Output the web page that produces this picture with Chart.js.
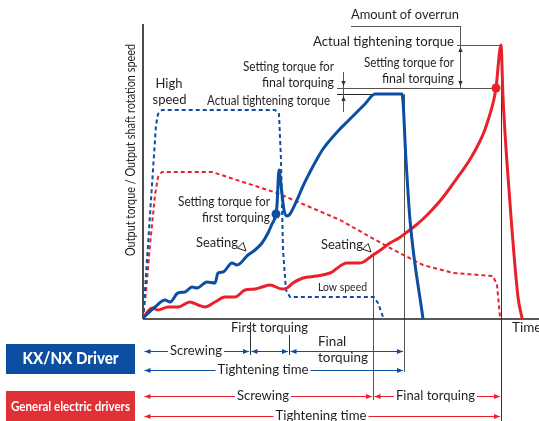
<!DOCTYPE html>
<html><head><meta charset="utf-8">
<script src="https://cdn.jsdelivr.net/npm/chart.js@4"></script>
<style>html,body{margin:0;padding:0;background:#fff;overflow:hidden}</style>
</head><body>
<canvas id="c" width="539" height="421"></canvas>
<script>
// ---- Data (time units along x, torque / speed units along y) ----
const kxTorque = [[0,1],[12,12],[22,19],[27,17],[35,26],[42,27],[49,32],[54,31],[64,37],[72,36],[75,46],[80,47],[89,56],[94,54],[105,64],[112,69],[119,76],[125,86],[129,95],[133,105],[134,114],[136,149],[138,134],[141,109],[144,103],[147,105],[154,119],[160,133],[167,147],[174,160],[180,170],[188,180],[196,189],[204,197],[213,206],[222,215],[232,225],[259,225],[263,159],[267,99],[280,0]];
const genTorque = [[0,1],[9,11],[15,9],[25,12],[35,12],[47,17],[55,14],[62,12],[72,17],[82,22],[92,22],[102,29],[112,30],[119,32],[127,34],[139,30],[144,31],[150,36],[160,41],[174,43],[187,46],[204,56],[217,56],[230,64],[239,70],[247,76],[256,81],[264,87],[272,93],[280,100],[288,108],[297,118],[307,131],[317,145],[326,158],[334,172],[341,187],[347,205],[351,220],[353,231],[358,274],[360,222],[364,156],[369,89],[375,22],[379,1]];
const kxSpeed = [[0,0],[5,74],[10,149],[13,194],[15,205],[19,209],[132,209],[136,205],[138,159],[140,69],[143,29],[147,22],[231,22],[235,16],[240,2]];
const genSpeed = [[0,0],[3,27],[7,74],[12,124],[15,142],[19,147],[69,147],[134,126],[197,99],[222,85],[247,71],[280,54],[310,46],[350,43],[354,34],[357,2]];
const kxPhaseBounds = [0, 107, 146, 261];      // screwing | first torquing | final torquing end
const genPhaseBounds = [0, 230, 358];          // screwing | final torquing end
const kxFirstSetPoint = [133, 105];
const genFinalSetPoint = [353, 231];
const kxTorqueLevels = [231, 225];             // setting torque final, actual tightening torque
const genTorqueLevels = [231, 274];            // setting torque final, actual tightening torque
const seatingPoints = [[104, 66], [229, 65]];

const BLUE = '#0b4ea2', RED = '#e8212b', BOXBLUE = '#0b4ea2', BOXRED = '#e03236';
const TXT = '#231f20', GUIDE = '#555';
const FONT = 'Lato, "Open Sans", sans-serif';
const pts = a => a.map(([x, y]) => ({x, y}));

const annot = {
  id: 'annot',
  beforeDatasetsDraw(chart) {
    const {ctx, scales: {x: xs, y: ys}} = chart;
    const X = v => xs.getPixelForValue(v), Y = v => ys.getPixelForValue(v);
    ctx.save();
    const ln = (x1, y1, x2, y2) => { ctx.beginPath(); ctx.moveTo(x1, y1); ctx.lineTo(x2, y2); ctx.stroke(); };
    ctx.lineWidth = 1; ctx.strokeStyle = GUIDE;
    ln(X(kxPhaseBounds[3]) + .5, Y(kxTorqueLevels[1]), X(kxPhaseBounds[3]) + .5, Y(-53));
    ln(X(genPhaseBounds[1]) + .5, Y(64), X(genPhaseBounds[1]) + .5, Y(-81));
    ctx.strokeStyle = '#333';
    ln(X(genPhaseBounds[2]) + .5, Y(genTorqueLevels[1]), X(genPhaseBounds[2]) + .5, Y(-102));
    ctx.strokeStyle = GUIDE;
    ln(X(194), Y(genTorqueLevels[0]) + .5, X(genFinalSetPoint[0]), Y(genTorqueLevels[0]) + .5);
    ln(X(314), Y(genTorqueLevels[1]) + .5, X(genPhaseBounds[2]), Y(genTorqueLevels[1]) + .5);
    ctx.strokeStyle = '#222';
    ln(X(194), Y(kxTorqueLevels[1]) + .5, X(232), Y(kxTorqueLevels[1]) + .5);
    ctx.strokeStyle = GUIDE;
    ln(X(208), Y(293) + .5, X(317) + .5, Y(293) + .5);
    ln(X(317) + .5, Y(293), X(317) + .5, Y(231));
    ln(X(200) + .5, Y(247), X(200) + .5, Y(207));
    ctx.strokeStyle = '#231f20'; ctx.lineWidth = 1.6;
    ln(X(0), Y(295), X(0), Y(0));
    ln(X(0), Y(0), X(396), Y(0));
    ctx.restore();
  },
  afterDatasetsDraw(chart) {
    const {ctx, scales: {x: xs, y: ys}} = chart;
    const X = v => xs.getPixelForValue(v), Y = v => ys.getPixelForValue(v);
    ctx.save();
    const ln = (x1, y1, x2, y2) => { ctx.beginPath(); ctx.moveTo(x1, y1); ctx.lineTo(x2, y2); ctx.stroke(); };
    const text = (s, x, y, align, size, maxW, opts = {}) => {
      ctx.font = (opts.weight || '400') + ' ' + size + 'px ' + FONT;
      ctx.textAlign = align; ctx.textBaseline = 'middle';
      ctx.fillStyle = opts.color || TXT;
      if (opts.bg) {
        const w = Math.min(ctx.measureText(s).width, maxW || 1e9);
        const x0 = align === 'center' ? x - w / 2 : align === 'right' ? x - w : x;
        ctx.save(); ctx.fillStyle = '#fff'; ctx.fillRect(x0 - 2, y - size / 2, w + 4, size); ctx.restore();
      }
      if (maxW) ctx.fillText(s, x, y, maxW); else ctx.fillText(s, x, y);
    };
    const head = (x, y, dx, dy, color, len = 6, hw = 2.6) => {
      ctx.fillStyle = color; ctx.beginPath();
      ctx.moveTo(x, y);
      ctx.lineTo(x - dx * len - dy * hw, y - dy * len + dx * hw);
      ctx.lineTo(x - dx * len + dy * hw, y - dy * len - dx * hw);
      ctx.closePath(); ctx.fill();
    };
    const dbl = (t1, t2, v, color) => {
      const x1 = X(t1) + 1.5, x2 = X(t2) - 1, y = Math.round(Y(v)) + .5;
      ctx.strokeStyle = color; ctx.lineWidth = 1.2; ln(x1, y, x2, y);
      head(x1, y, -1, 0, color); head(x2, y, 1, 0, color);
    };
    ctx.fillStyle = BLUE; ctx.beginPath(); ctx.arc(X(kxFirstSetPoint[0]), Y(kxFirstSetPoint[1]), 4.5, 0, Math.PI * 2); ctx.fill();
    ctx.fillStyle = RED; ctx.beginPath(); ctx.arc(X(genFinalSetPoint[0]), Y(genFinalSetPoint[1]), 4.5, 0, Math.PI * 2); ctx.fill();
    head(X(317) + .5, Y(272), 0, -1, '#333', 5, 2.2);
    head(X(317) + .5, Y(233), 0, 1, '#333', 5, 2.2);
    head(X(200) + .5, Y(233), 0, 1, '#333', 5, 2.2);
    head(X(200) + .5, Y(223), 0, -1, '#333', 5, 2.2);
    ctx.strokeStyle = '#222'; ctx.lineWidth = 1;
    for (const [t, v] of seatingPoints) {
      const tx = X(t) - 1, ty = Y(v) - 2, d = 0.7071, len = 8, hw = 4;
      ctx.beginPath(); ctx.moveTo(tx, ty);
      ctx.lineTo(tx - d * len + d * hw, ty - d * len - d * hw);
      ctx.lineTo(tx - d * len - d * hw, ty - d * len + d * hw);
      ctx.closePath(); ctx.fillStyle = '#fff'; ctx.fill(); ctx.stroke();
    }
    text('Amount of overrun', X(316), Y(304), 'right', 13.5, 108);
    text('Actual tightening torque', X(311), Y(277), 'right', 13.5, 141);
    text('Setting torque for', X(311), Y(256), 'right', 12.5, 90);
    text('final torquing', X(311), Y(240), 'right', 12.5, 72);
    text('Setting torque for', X(191), Y(252), 'right', 12.5, 91);
    text('final torquing', X(191), Y(236), 'right', 12.5, 72);
    text('Actual tightening torque', X(187), Y(218), 'right', 12.5, 123);
    text('High', X(26), Y(235), 'center', 13);
    text('speed', X(26.5), Y(219), 'center', 13);
    text('Setting torque for', X(127), Y(117), 'right', 12.5, 92);
    text('first torquing', X(127), Y(101), 'right', 12.5, 68);
    text('Seating', X(53), Y(76), 'left', 13, 42);
    text('Seating', X(178), Y(74), 'left', 13, 42);
    text('Low speed', X(175), Y(32), 'left', 11, 49);
    text('First torquing', X(88), Y(-9), 'left', 13, 78);
    text('Time', X(369), Y(-9), 'left', 13.5);
    ctx.save(); ctx.translate(X(0) - 12, Y(169)); ctx.rotate(-Math.PI / 2);
    text('Output torque / Output shaft rotation speed', 0, 0, 'center', 12.5, 212);
    ctx.restore();
    ctx.strokeStyle = '#333'; ctx.lineWidth = 1;
    ln(X(kxPhaseBounds[1]) + .5, Y(-3), X(kxPhaseBounds[1]) + .5, Y(-36));
    ln(X(kxPhaseBounds[2]) + .5, Y(-16), X(kxPhaseBounds[2]) + .5, Y(-36));
    dbl(kxPhaseBounds[0], kxPhaseBounds[1], -32, BLUE);
    dbl(kxPhaseBounds[1], kxPhaseBounds[2], -32, BLUE);
    dbl(kxPhaseBounds[2], kxPhaseBounds[3], -32, BLUE);
    text('Screwing', X(53), Y(-32), 'center', 13.5, 52, {bg: true});
    text('Final', X(175), Y(-23), 'left', 13.5);
    text('torquing', X(175), Y(-39), 'left', 13.5, 50);
    dbl(kxPhaseBounds[0], kxPhaseBounds[3], -51, BLUE);
    text('Tightening time', X(120), Y(-51), 'center', 13.5, 91, {bg: true});
    dbl(genPhaseBounds[0], genPhaseBounds[1], -77, RED);
    dbl(genPhaseBounds[1], genPhaseBounds[2], -77, RED);
    text('Screwing', X(120), Y(-77), 'center', 13.5, 52, {bg: true});
    text('Final torquing', X(292.5), Y(-77), 'center', 13.5, 79, {bg: true});
    dbl(genPhaseBounds[0], genPhaseBounds[2], -97, RED);
    text('Tightening time', X(178), Y(-97), 'center', 13.5, 91, {bg: true});
    ctx.fillStyle = BOXBLUE; ctx.fillRect(X(-137), Y(-25), 129, 30);
    ctx.fillStyle = BOXRED; ctx.fillRect(X(-137), Y(-72), 129, 30);
    text('KX/NX Driver', X(-72.5), Y(-40), 'center', 17, 96, {weight: '900', color: '#fff'});
    text('General electric drivers', X(-72.5), Y(-87), 'center', 14, 119, {weight: '700', color: '#fff'});
    ctx.restore();
  }
};

new Chart(document.getElementById('c'), {
  type: 'scatter',
  data: {
    datasets: [
      {label: 'KX/NX torque', data: pts(kxTorque), showLine: true, borderColor: BLUE, borderWidth: 3, pointRadius: 0, cubicInterpolationMode: 'monotone', borderCapStyle: 'round', borderJoinStyle: 'round'},
      {label: 'General torque', data: pts(genTorque), showLine: true, borderColor: RED, borderWidth: 3, pointRadius: 0, cubicInterpolationMode: 'monotone', borderCapStyle: 'round', borderJoinStyle: 'round'},
      {label: 'KX/NX speed', data: pts(kxSpeed), showLine: true, borderColor: BLUE, borderWidth: 2, borderDash: [4, 3], pointRadius: 0, tension: 0, borderJoinStyle: 'round'},
      {label: 'General speed', data: pts(genSpeed), showLine: true, borderColor: RED, borderWidth: 2, borderDash: [4, 3], pointRadius: 0, tension: 0, borderJoinStyle: 'round'}
    ]
  },
  options: {
    responsive: false, animation: false,
    layout: {padding: {left: 143, top: 24, right: 0, bottom: 102}},
    scales: {
      x: {type: 'linear', min: 0, max: 396, display: false},
      y: {type: 'linear', min: 0, max: 295, display: false}
    },
    plugins: {legend: {display: false}, tooltip: {enabled: false}}
  },
  plugins: [annot]
});
</script>
</body></html>
